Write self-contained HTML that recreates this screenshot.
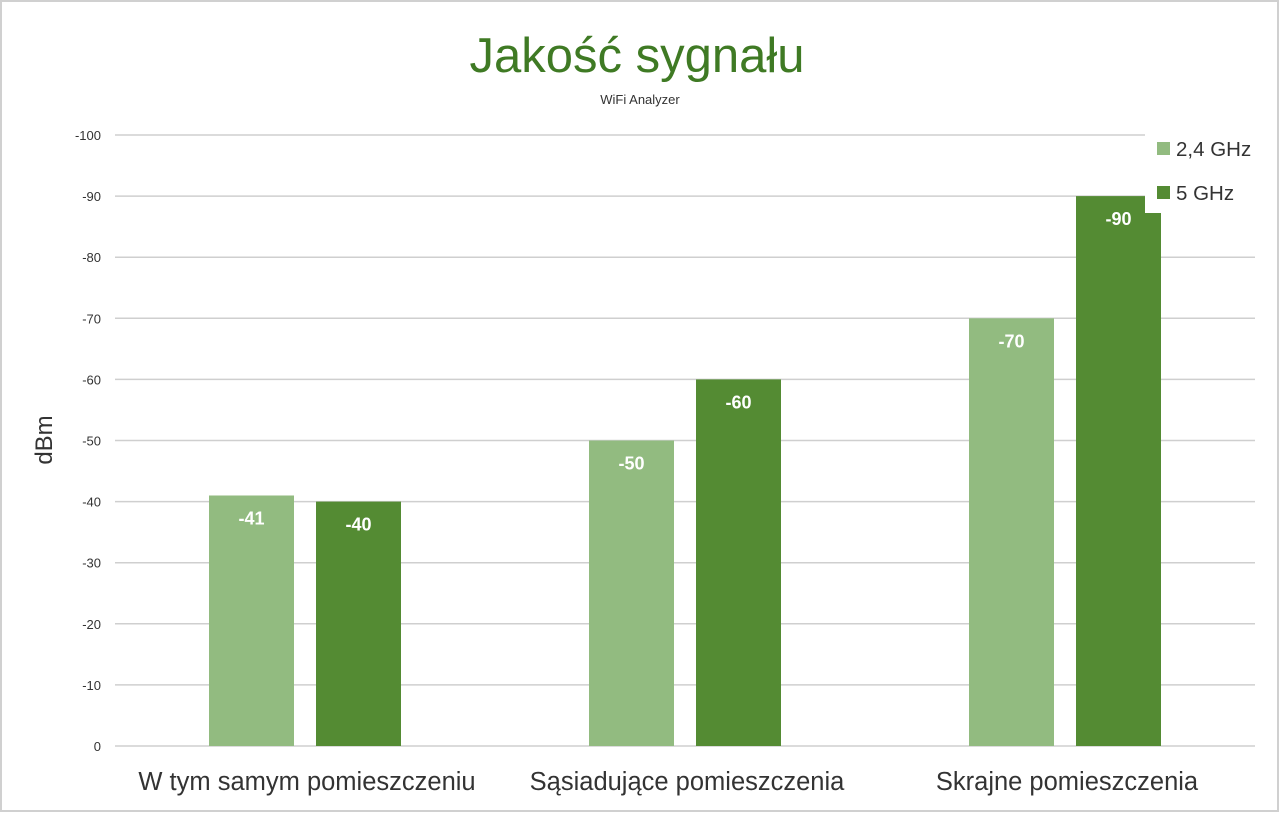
<!DOCTYPE html>
<html><head><meta charset="utf-8"><style>
body{margin:0;background:#fff;}
svg{display:block;font-family:"Liberation Sans",sans-serif;}
</style></head><body>
<svg width="1280" height="813" id="c">
<rect x="1" y="1" width="1277" height="810" fill="#fff" stroke="#d0d0d0" stroke-width="2"/>
<text x="637" y="72" text-anchor="middle" font-size="49" fill="#3f7a24">Jakość sygnału</text>
<text x="640" y="104" text-anchor="middle" font-size="13" fill="#333">WiFi Analyzer</text>
<text transform="translate(52,440) rotate(-90)" text-anchor="middle" font-size="24" fill="#333">dBm</text>
<g id="grid"></g><g id="bars"></g>
<rect x="1145" y="125" width="112" height="88" fill="#fff"/>
<rect x="1157" y="142" width="13" height="13" fill="#92bb80"/>
<text x="1176" y="156" font-size="20.5" fill="#333">2,4 GHz</text>
<rect x="1157" y="186" width="13" height="13" fill="#548b33"/>
<text x="1176" y="200" font-size="20.5" fill="#333">5 GHz</text>
</svg>
<script>
const categories=["W tym samym pomieszczeniu","Sąsiadujące pomieszczenia","Skrajne pomieszczenia"];
const series24=[-41,-50,-70];
const series5=[-40,-60,-90];
const ticks=[0,-10,-20,-30,-40,-50,-60,-70,-80,-90,-100];
const NS="http://www.w3.org/2000/svg";
const y=v=>746+v*6.11;
const groupX=i=>115+(i+0.5)*380;
function mk(t,a,p){const e=document.createElementNS(NS,t);for(const k in a)e.setAttribute(k,a[k]);p.appendChild(e);return e;}
const g=document.getElementById('grid'),b=document.getElementById('bars');
ticks.forEach(t=>{
 const l=mk('line',{x1:115,x2:1255,y1:y(t),y2:y(t),stroke:'#cfcfcf','stroke-width':1.5},g);
 
 
 const tx=mk('text',{x:101,y:y(t)+5,'text-anchor':'end','font-size':13,fill:'#333'},g);
 tx.textContent=t;
 
 
});
categories.forEach((c,i)=>{
 const cx=groupX(i);
 [[series24[i],'#92bb80',-96],[series5[i],'#548b33',11]].forEach(([v,col,off],j)=>{
  const r=mk('rect',{x:cx+off,y:y(v),width:85,height:746-y(v),fill:col},b);
  
  
  const t=mk('text',{x:cx+off+42.5,y:y(v)+29,'text-anchor':'middle','font-size':18,'font-weight':'bold',fill:'#fff'},b);
  t.textContent=v;
  
  
 });
 const t=mk('text',{x:cx+2,y:790,'text-anchor':'middle','font-size':25.5,fill:'#333'},b);
 t.textContent=c;
 
 
});
</script>
</body></html>
